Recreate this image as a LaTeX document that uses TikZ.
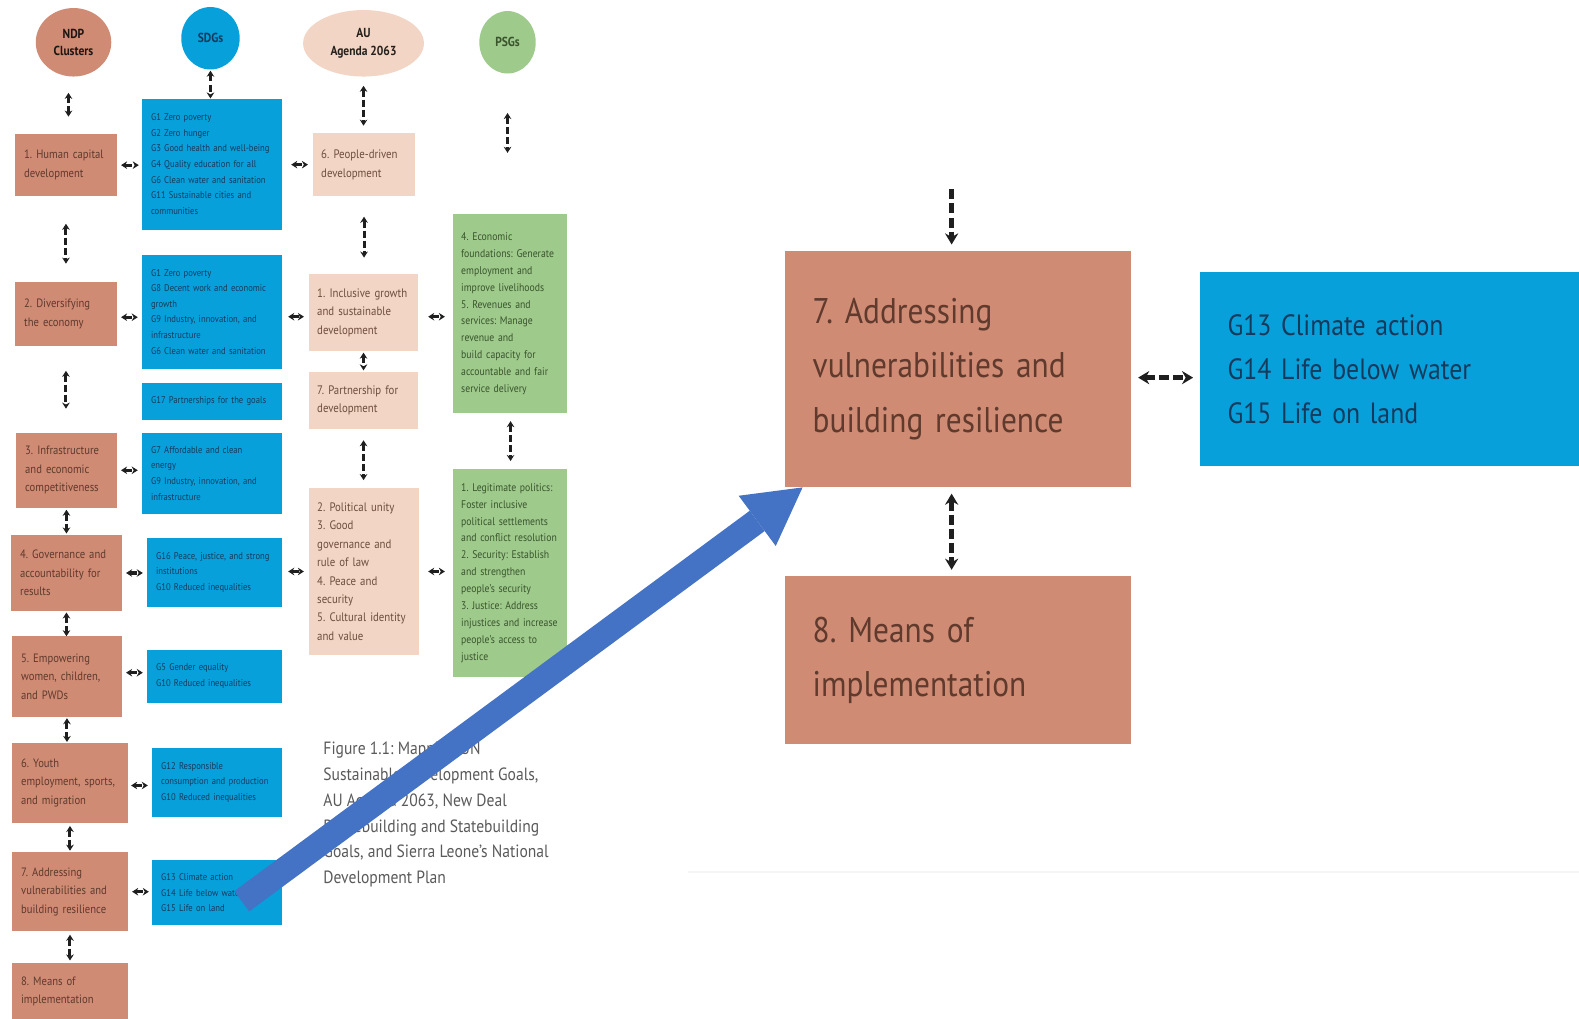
\documentclass[tikz,border=0pt]{standalone}
\usepackage{fontspec}
\setmainfont[FakeStretch=0.88]{PT Sans}
\usetikzlibrary{arrows.meta,calc,shapes.geometric}
\definecolor{terra}{RGB}{207,139,116}
\definecolor{terratext}{RGB}{95,58,45}
\definecolor{sdgblue}{RGB}{8,160,218}
\definecolor{sdgtext}{RGB}{22,58,92}
\definecolor{peach}{RGB}{242,213,196}
\definecolor{peachtext}{RGB}{110,78,62}
\definecolor{psggreen}{RGB}{158,202,140}
\definecolor{psgtext}{RGB}{58,84,44}
\definecolor{arrowblue}{RGB}{68,114,196}
\definecolor{captext}{RGB}{90,90,90}
\begin{document}
\frenchspacing
\hyphenpenalty=10000
\exhyphenpenalty=10000
\begin{tikzpicture}[x=1pt,y=-1pt,
  box/.style={draw=none, inner ysep=0pt, align=left, anchor=center},
  c1/.style={box, fill=terra, text=terratext, inner xsep=9pt, font=\fontsize{12}{18.5}\selectfont},
  c2/.style={box, fill=sdgblue, text=sdgtext, inner xsep=9pt, font=\fontsize{9.7}{15.5}\selectfont},
  c3/.style={box, fill=peach, text=peachtext, inner xsep=8pt, font=\fontsize{12.2}{18.3}\selectfont},
  c4/.style={box, fill=psggreen, text=psgtext, inner xsep=8pt, font=\fontsize{11}{16.8}\selectfont},
  oval/.style={ellipse, inner sep=0pt, align=center, font=\bfseries\fontsize{13}{17}\selectfont},
  bigterra/.style={box, fill=terra, text=terratext, inner xsep=27pt, font=\fontsize{35.4}{54}\selectfont},
  bigblue/.style={box, fill=sdgblue, text=sdgtext, inner xsep=27pt, font=\fontsize{29.1}{44}\selectfont},
  sconn/.style={draw=black!88, line width=3pt, dash pattern=on 7pt off 3pt,
    {Stealth[length=6pt,width=7.5pt]}-{Stealth[length=6pt,width=7.5pt]}},
  bigconn/.style={draw=black!88, line width=5pt, dash pattern=on 10pt off 4pt,
    {Stealth[length=11pt,width=13pt]}-{Stealth[length=11pt,width=13pt]}},
  topconn/.style={draw=black!88, line width=5pt, dash pattern=on 10pt off 4pt,
    -{Stealth[length=11pt,width=13pt]}},
  caption/.style={anchor=north west, inner sep=0pt, align=left, text=captext,
    font=\fontsize{17.6}{25.5}\selectfont},
  bluearrow/.style={draw=arrowblue, line width=25pt,
    -{Triangle[length=56pt,width=62pt,line width=0pt]}}
]
\useasboundingbox (0,0) rectangle (1568,1011);
\fill[white] (0,0) rectangle (1568,1011);

% faint rule
\draw[black!4, line width=2pt] (683,866) -- (1568,866);

% header ovals
\node[oval, fill=terra, text=black!85!terra, minimum width=75pt, minimum height=68pt] (NDP) at (73,42) {NDP\\Clusters};
\node[oval, fill=sdgblue, text=sdgtext, minimum width=58pt, minimum height=62pt] (SDGs) at (209,38) {SDGs};
\node[oval, fill=peach, text=black!85!peach, minimum width=120pt, minimum height=66pt] (AU) at (361,43) {AU\\Agenda 2063};
\node[oval, fill=psggreen, text=psgtext, minimum width=56pt, minimum height=62pt] (PSGs) at (504,42) {PSGs};

% column 1: NDP clusters
\node[c1, minimum width=101pt, minimum height=62pt, text width=83pt] (n1) at (65.5,164) {1. Human capital\\development};
\node[c1, minimum width=101pt, minimum height=64pt, text width=83pt] (n2) at (65.5,312) {2. Diversifying\\the economy};
\node[c1, minimum width=100pt, minimum height=74pt, text width=82pt] (n3) at (66,467) {3. Infrastructure\\and economic\\competitiveness};
\node[c1, minimum width=110pt, minimum height=76pt, text width=92pt] (n4) at (66,569) {4. Governance and\\accountability for\\results};
\node[c1, minimum width=109pt, minimum height=80pt, text width=91pt] (n5) at (66.5,672) {5. Empowering\\women, children,\\and PWDs};
\node[c1, minimum width=115pt, minimum height=79pt, text width=97pt] (n6) at (69.5,777.5) {6. Youth\\employment, sports,\\and migration};
\node[c1, minimum width=115pt, minimum height=79pt, text width=97pt] (n7) at (69.5,885.5) {7. Addressing\\vulnerabilities and\\building resilience};
\node[c1, minimum width=115pt, minimum height=57pt, text width=97pt] (n8) at (69.5,984.5) {8. Means of\\implementation};

% column 2: SDGs
\node[c2, minimum width=139pt, minimum height=130pt, text width=121pt] (A) at (210.5,163) {G1 Zero poverty\\G2 Zero hunger\\G3 Good health and well-being\\G4 Quality education for all\\G6 Clean water and sanitation\\G11 Sustainable cities and\\communities};
\node[c2, minimum width=139pt, minimum height=113pt, text width=121pt] (B) at (210.5,309.5) {G1 Zero poverty\\G8 Decent work and economic\\growth\\G9 Industry, innovation, and\\infrastructure\\G6 Clean water and sanitation};
\node[c2, minimum width=139pt, minimum height=37pt, text width=121pt] (C) at (210.5,398.5) {G17 Partnerships for the goals};
\node[c2, minimum width=139pt, minimum height=80pt, text width=121pt] (D) at (210.5,470) {G7 Affordable and clean\\energy\\G9 Industry, innovation, and\\infrastructure};
\node[c2, minimum width=134pt, minimum height=69pt, text width=116pt] (E) at (213,568.5) {G16 Peace, justice, and strong\\institutions\\G10 Reduced inequalities};
\node[c2, minimum width=134pt, minimum height=53pt, text width=116pt] (F) at (213,671.5) {G5 Gender equality\\G10 Reduced inequalities};
\node[c2, minimum width=129pt, minimum height=68pt, text width=111pt] (G) at (215.5,777) {G12 Responsible\\consumption and production\\G10 Reduced inequalities};
\node[c2, minimum width=129pt, minimum height=65pt, text width=111pt] (H) at (215.5,886.5) {G13 Climate action\\G14 Life below water\\G15 Life on land};

% column 3: AU Agenda 2063
\node[c3, minimum width=101pt, minimum height=63pt, text width=85pt] (a) at (361.5,163.5) {6. People-driven\\development};
\node[c3, minimum width=108pt, minimum height=77pt, text width=92pt] (b) at (361,310.5) {1. Inclusive growth\\and sustainable\\development};
\node[c3, minimum width=108pt, minimum height=57pt, text width=92pt] (c) at (361,397.5) {7. Partnership for\\development};
\node[c3, minimum width=109pt, minimum height=165pt, text width=93pt] (d) at (361.5,567.5) {2. Political unity\\3. Good\\governance and\\rule of law\\4. Peace and\\security\\5. Cultural identity\\and value};

% column 4: PSGs
\node[c4, minimum width=113pt, minimum height=197pt, text width=97pt] (i) at (506.5,311.5) {4. Economic\\foundations: Generate\\employment and\\improve livelihoods\\5. Revenues and\\services: Manage\\revenue and\\build capacity for\\accountable and fair\\service delivery};
\node[c4, minimum width=113pt, minimum height=206pt, text width=97pt] (ii) at (506.5,569) {1. Legitimate politics:\\Foster inclusive\\political settlements\\and conflict resolution\\2. Security: Establish\\and strengthen\\people's security\\3. Justice: Address\\injustices and increase\\people's access to\\justice};

% caption
\node[caption] (cap) at (321,737) {Figure 1.1: Mapping UN\\Sustainable Development Goals,\\AU Agenda 2063, New Deal\\Peacebuilding and Statebuilding\\Goals, and Sierra Leone's National\\Development Plan};

% enlarged boxes
\node[bigterra, minimum width=343pt, minimum height=235pt, text width=289pt] (B7) at (951.5,366.5) {7. Addressing\\vulnerabilities and\\building resilience};
\node[bigterra, minimum width=343pt, minimum height=167pt, text width=289pt] (B8) at (951.5,655.5) {8. Means of\\implementation};
\node[bigblue, minimum width=383pt, minimum height=193pt, text width=329pt] (BB) at (1383.5,366.5) {G13 Climate action\\G14 Life below water\\G15 Life on land};

% vertical connectors, column 1
\draw[sconn, shorten <=17pt, shorten >=16pt] ($(n1.north)+(2.5,0)$) -- ($(n1.north |- NDP.south)+(2.5,0)$);
\draw[sconn, shorten <=27pt, shorten >=18pt] (n1.south) -- (n1.south |- n2.north);
\draw[sconn, shorten <=24pt, shorten >=24pt] (n2.south) -- (n2.south |- n3.north);
\draw[sconn, shorten <=2pt, shorten >=1pt] (n3.south) -- (n3.south |- n4.north);
\draw[sconn, shorten <=1pt, shorten >=0pt] (n4.south) -- (n4.south |- n5.north);
\draw[sconn, shorten <=1pt, shorten >=1pt] (n5.south) -- (n5.south |- n6.north);
\draw[sconn, shorten <=3pt, shorten >=1pt] (n6.south) -- (n6.south |- n7.north);
\draw[sconn, shorten <=3pt, shorten >=2pt] (n7.south) -- (n7.south |- n8.north);
% column 2
\draw[sconn, shorten <=1pt, shorten >=0pt] (SDGs.south) -- (SDGs.south |- A.north);
% column 3
\draw[sconn, shorten <=9pt, shorten >=7pt] (AU.south) -- (AU.south |- a.north);
\draw[sconn, shorten <=20pt, shorten >=16pt] (a.south) -- (a.south |- b.north);
\draw[sconn, shorten <=1pt, shorten >=1pt] (b.south) -- (b.south |- c.north);
\draw[sconn, shorten <=11pt, shorten >=8pt] (c.south) -- (c.south |- d.north);
% column 4
\draw[sconn, shorten <=39pt, shorten >=61pt] (PSGs.south) -- (PSGs.south |- i.north);
\draw[sconn, shorten <=8pt, shorten >=8pt] ($(i.south)+(0.5,0)$) -- ($(i.south |- ii.north)+(0.5,0)$);

% horizontal connectors
\draw[sconn, shorten <=4pt, shorten >=3pt] (n1.east) -- (n1.east -| A.west);
\draw[sconn, shorten <=9pt, shorten >=5pt] (a.west -| A.east) -- (a.west);
\draw[sconn, shorten <=4pt, shorten >=4pt] ($(n2.east)+(0,3)$) -- ($(n2.east -| B.west)+(0,3)$);
\draw[sconn, shorten <=6pt, shorten >=5pt] ($(b.west -| B.east)+(0,4)$) -- ($(b.west)+(0,4)$);
\draw[sconn, shorten <=10pt, shorten >=8pt] ($(b.east)+(0,4)$) -- ($(b.east -| i.west)+(0,4)$);
\draw[sconn, shorten <=4pt, shorten >=4pt] (n3.east) -- (n3.east -| D.west);
\draw[sconn, shorten <=4pt, shorten >=4pt] (n4.east) -- (n4.east -| E.west);
\draw[sconn, shorten <=6pt, shorten >=5pt] (d.west -| E.east) -- (d.west);
\draw[sconn, shorten <=9pt, shorten >=8pt] (d.east) -- (d.east -| ii.west);
\draw[sconn, shorten <=4pt, shorten >=4pt] ($(n5.east)+(0,-4)$) -- ($(n5.east -| F.west)+(0,-4)$);
\draw[sconn, shorten <=3pt, shorten >=4pt] ($(n6.east)+(0,2.5)$) -- ($(n6.east -| G.west)+(0,2.5)$);
\draw[sconn, shorten <=4pt, shorten >=3pt] (n7.east) -- (n7.east -| H.west);

% enlarged connectors
\coordinate (topfree) at (945,188);
\draw[topconn, shorten >=6pt] (topfree) -- (topfree |- B7.north);
\draw[bigconn, shorten <=6pt, shorten >=6pt] (B7.south -| topfree) -- (B8.north -| topfree);
\draw[bigconn, shorten <=7pt, shorten >=7pt] ($(B7.east)+(0,8.5)$) -- ($(BB.west)+(0,8.5)$);

% zoom arrow
\coordinate (arrS) at (240,895);
\coordinate (arrT) at (797,484);
\draw[bluearrow] (arrS) -- (arrT);
\end{tikzpicture}
\end{document}
